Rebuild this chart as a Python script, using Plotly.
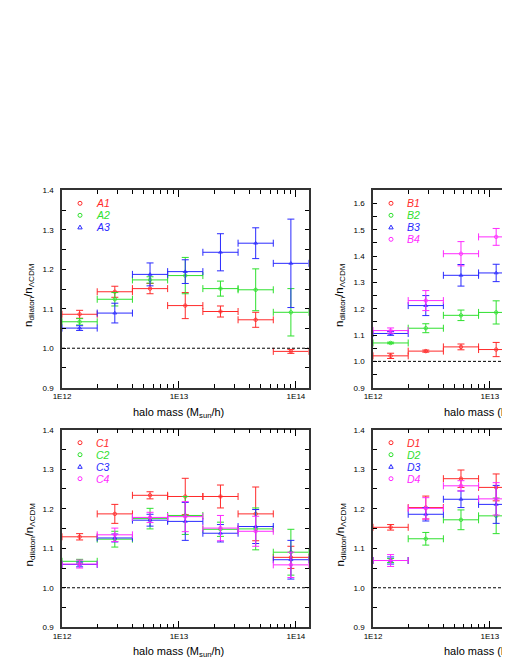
import math
import plotly.graph_objects as go

# mass bins (M_sun/h), factor-2 wide
BIN_EDGES = [1e12, 2e12, 4e12, 8e12, 1.6e13, 3.2e13, 6.4e13, 1.28e14]

# panel A
A1 = [1.086, 1.143, 1.151, 1.108, 1.093, 1.072, 0.992]
A1_ERR = [0.010, 0.014, 0.013, 0.033, 0.014, 0.019, 0.005]
A2 = [1.067, 1.124, 1.173, 1.184, 1.151, 1.148, 1.091]
A2_ERR = [0.008, 0.017, 0.008, 0.046, 0.019, 0.053, 0.060]
A3 = [1.051, 1.089, 1.187, 1.194, 1.243, 1.266, 1.215]
A3_ERR = [0.006, 0.025, 0.029, 0.030, 0.047, 0.039, 0.112]

# panel B (only the first bins fall inside the picture)
B1 = [1.021, 1.039, 1.055, 1.045, 1.045]
B1_ERR = [0.010, 0.004, 0.011, 0.027, 0.010]
B2 = [1.070, 1.126, 1.175, 1.186, 1.153]
B2_ERR = [0.003, 0.017, 0.020, 0.044, 0.020]
B3 = [1.106, 1.212, 1.327, 1.336, 1.322]
B3_ERR = [0.007, 0.038, 0.041, 0.033, 0.030]
B4 = [1.117, 1.231, 1.409, 1.473, 1.482]
B4_ERR = [0.010, 0.038, 0.046, 0.032, 0.030]

# panel C
C1 = [1.129, 1.187, 1.234, 1.231, 1.231, 1.187, 1.077]
C1_ERR = [0.008, 0.024, 0.009, 0.046, 0.029, 0.068, 0.028]
C2 = [1.067, 1.123, 1.175, 1.183, 1.148, 1.149, 1.090]
C2_ERR = [0.005, 0.020, 0.026, 0.048, 0.018, 0.053, 0.058]
C3 = [1.059, 1.126, 1.171, 1.168, 1.138, 1.155, 1.071]
C3_ERR = [0.006, 0.010, 0.015, 0.048, 0.022, 0.043, 0.049]
C4 = [1.060, 1.134, 1.178, 1.180, 1.151, 1.143, 1.058]
C4_ERR = [0.010, 0.017, 0.013, 0.038, 0.032, 0.038, 0.032]

# panel D
D1 = [1.153, 1.203, 1.276, 1.254, 1.248]
D1_ERR = [0.007, 0.029, 0.022, 0.034, 0.030]
D2 = [1.069, 1.124, 1.172, 1.182, 1.153]
D2_ERR = [0.005, 0.016, 0.025, 0.045, 0.030]
D3 = [1.069, 1.186, 1.224, 1.211, 1.186]
D3_ERR = [0.009, 0.017, 0.021, 0.048, 0.030]
D4 = [1.069, 1.201, 1.258, 1.225, 1.206]
D4_ERR = [0.015, 0.027, 0.013, 0.041, 0.030]

X_TICKS = [1e12, 1e13, 1e14]
X_TICK_TEXT = ["1E12", "1E13", "1E14"]

COLORS = ["#ff2a2a", "#2ee02e", "#2a2aff", "#ff2aff"]
SYMBOLS = ["circle-open", "circle-open", "triangle-up-open", "circle-open"]

panels = [
    # series, x axis id, y axis id, y range
    ([("A1", A1, A1_ERR), ("A2", A2, A2_ERR), ("A3", A3, A3_ERR)], "x", "y", [0.9, 1.4]),
    ([("B1", B1, B1_ERR), ("B2", B2, B2_ERR), ("B3", B3, B3_ERR), ("B4", B4, B4_ERR)], "x2", "y2", [0.9, 1.65]),
    ([("C1", C1, C1_ERR), ("C2", C2, C2_ERR), ("C3", C3, C3_ERR), ("C4", C4, C4_ERR)], "x3", "y3", [0.9, 1.4]),
    ([("D1", D1, D1_ERR), ("D2", D2, D2_ERR), ("D3", D3, D3_ERR), ("D4", D4, D4_ERR)], "x4", "y4", [0.9, 1.4]),
]

W, H = 510, 660
# pixel boxes of the four frames: left, right, top, bottom
boxes = [(54, 300.5, 182.3, 379.7), (365, 510, 182.3, 379.7),
         (54, 300.5, 421.7, 619.3), (365, 510, 421.7, 619.3)]
# log10 x ranges (right column is cut by the picture edge)
x_ranges = [[12, math.log10(1.28e14)], [12, 12 + 145 / 116.9],
            [12, math.log10(1.28e14)], [12, 12 + 145 / 116.9]]

fig = go.Figure()
shapes = []
annotations = []
FONT = "Arial, Liberation Sans, sans-serif"

for p, (series, xa, ya, yr) in enumerate(panels):
    for k, (name, vals, errs) in enumerate(series):
        n = len(vals)
        lo = BIN_EDGES[:n]
        hi = BIN_EDGES[1:n + 1]
        xc = [math.sqrt(a * b) for a, b in zip(lo, hi)]
        fig.add_trace(go.Scatter(
            x=xc, y=vals, mode="markers", name=name, showlegend=False,
            xaxis=xa, yaxis=ya,
            marker=dict(symbol=SYMBOLS[k], size=3.5, color=COLORS[k], line=dict(width=0.8, color=COLORS[k])),
            error_x=dict(type="data", symmetric=False,
                         array=[b - c for b, c in zip(hi, xc)],
                         arrayminus=[c - a for a, c in zip(lo, xc)],
                         width=3.5, thickness=1, color=COLORS[k]),
            error_y=dict(type="data", array=errs, width=3.5, thickness=1, color=COLORS[k]),
        ))

    l, r, t, b = boxes[p]
    sfx = "" if p == 0 else str(p + 1)
    minor_vals = [m * 10 ** e for e in (12, 13) for m in range(2, 10)]
    fig.layout["xaxis" + sfx] = dict(
        type="log", range=x_ranges[p], domain=[l / W, r / W], anchor="y" + sfx,
        tickmode="array", tickvals=X_TICKS, ticktext=X_TICK_TEXT,
        ticks="inside", ticklen=7, tickcolor="black", tickwidth=1,
        minor=dict(tickmode="array", tickvals=minor_vals, ticks="inside", ticklen=4, tickcolor="black"),
        showline=True, linecolor="#333", linewidth=1.5, mirror="ticks",
        showgrid=False, zeroline=False, automargin=False,
        tickfont=dict(family=FONT, size=8, color="black"),
    )
    fig.layout["yaxis" + sfx] = dict(
        range=yr, domain=[1 - b / H, 1 - t / H], anchor="x" + sfx,
        dtick=0.1, tick0=0.9, tickformat=".1f",
        ticks="inside", ticklen=4, tickcolor="black", tickwidth=1,
        minor=dict(dtick=0.05, ticks="inside", ticklen=4, tickcolor="black"),
        showline=True, linecolor="#333", linewidth=1.5,
        mirror="ticks" if p in (0, 2) else False,
        showgrid=False, zeroline=False, automargin=False, ticklabelstandoff=5,
        tickfont=dict(family=FONT, size=8, color="black"),
    )

    # reference line at the ΛCDM value
    shapes.append(dict(type="line", xref=xa + " domain", yref=ya, x0=0, x1=1, y0=1.0, y1=1.0,
                       line=dict(color="black", width=1, dash="3px,2px")))

    # hand-drawn legend (plotly legend rows are too tall)
    for k, (name, _, _) in enumerate(series):
        cy = t + 13 + 12 * k
        mx = l + 18
        if SYMBOLS[k].startswith("triangle"):
            shapes.append(dict(type="path", xref="paper", yref="paper",
                               path=f"M {mx / W} {1 - (cy - 2.2) / H} L {(mx + 2.2) / W} {1 - (cy + 1.6) / H} "
                                    f"L {(mx - 2.2) / W} {1 - (cy + 1.6) / H} Z",
                               line=dict(color=COLORS[k], width=1)))
        else:
            shapes.append(dict(type="circle", xref="paper", yref="paper",
                               x0=(mx - 2) / W, x1=(mx + 2) / W, y0=1 - (cy + 2) / H, y1=1 - (cy - 2) / H,
                               line=dict(color=COLORS[k], width=1)))
        annotations.append(dict(text=f"<i>{name}</i>", xref="paper", yref="paper",
                                x=(l + 32) / W, y=1 - cy / H, xanchor="left", yanchor="middle",
                                showarrow=False, font=dict(family=FONT, size=10.5, color=COLORS[k])))

    # axis titles
    annotations.append(dict(text="halo mass (M<sub>sun</sub>/h)", xref="paper", yref="paper",
                            x=(l + 116) / W, y=1 - (b + 25) / H, xanchor="center", yanchor="middle",
                            showarrow=False, font=dict(family=FONT, size=11, color="black")))
    annotations.append(dict(text="n<sub>dilaton</sub>/n<sub>ΛCDM</sub>", xref="paper", yref="paper",
                            x=(l - 33) / W, y=1 - ((t + b) / 2 + 6) / H, xanchor="center", yanchor="middle",
                            textangle=-90, showarrow=False, font=dict(family=FONT, size=11.5, color="black")))

fig.update_layout(
    width=W, height=H, template="none",
    margin=dict(l=0, r=0, t=0, b=0),
    paper_bgcolor="white", plot_bgcolor="white",
    showlegend=False, shapes=shapes, annotations=annotations,
)

fig.write_html("out.html")
